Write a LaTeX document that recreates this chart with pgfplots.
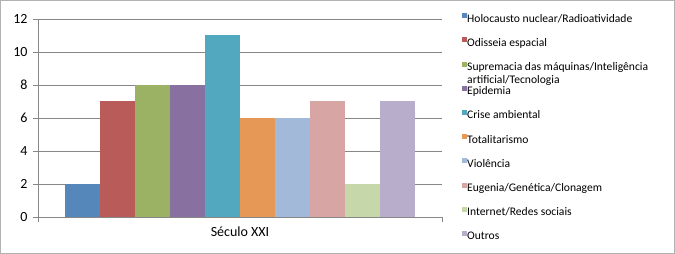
\documentclass[border=0pt]{standalone}
\usepackage{fontspec}
\setmainfont{Carlito}
\usepackage{pgfplots}
\pgfplotsset{compat=1.18}
\definecolor{c1}{HTML}{5587BA}
\definecolor{c2}{HTML}{B95C59}
\definecolor{c3}{HTML}{9BB265}
\definecolor{c4}{HTML}{8870A0}
\definecolor{c5}{HTML}{52A8BE}
\definecolor{c6}{HTML}{E69856}
\definecolor{c7}{HTML}{A3B9D9}
\definecolor{c8}{HTML}{D8A5A5}
\definecolor{c9}{HTML}{C6D7A9}
\definecolor{c10}{HTML}{B8ADCB}
\definecolor{axgray}{HTML}{878787}
\begin{document}
\begin{tikzpicture}
\path[use as bounding box] (0,0) rectangle (675pt,254pt);
\draw[color=black!30, line width=1pt] (0.5pt,0.5pt) rectangle (674.5pt,253.5pt);
\begin{axis}[
  at={(38pt,37pt)}, anchor=south west,
  scale only axis, width=404pt, height=198pt,
  ybar=0pt, bar width=35pt,
  xmin=-0.5, xmax=0.5, ymin=0, ymax=12,
  ytick={0,2,...,12},
  xtick={-0.5,0.5}, xticklabels={},
  extra x ticks={0}, extra x tick labels={Século XXI},
  extra x tick style={major tick length=0pt, grid=none, xticklabel style={yshift=-6pt}},
  axis x line*=bottom, axis y line*=left,
  axis line style={draw=axgray},
  tick style={draw=axgray, line width=0.6pt},
  tick align=outside, major tick length=5pt,
  ymajorgrids, grid style={draw=axgray, line width=0.6pt},
  /pgf/number format/assume math mode=true,
  tick label style={font=\fontsize{14}{16}\selectfont, text=black},
  yticklabel style={xshift=-2pt},
  legend cell align=left,
  legend style={draw=none, fill=none, at={(424pt,204pt)}, anchor=north west,
    font=\fontsize{11.6}{13}\selectfont, row sep=12.75pt, inner sep=0pt,
    nodes={inner sep=0pt, text height=8pt, text depth=2.5pt},
    /tikz/every even column/.append style={column sep=4pt}},
  legend image code/.code={\fill[#1, draw=none] (0pt,1.2pt) rectangle (5pt,6.2pt);},
  every axis plot/.append style={draw=none},
]
\addplot[fill=c1] coordinates {(0,2)};
\addplot[fill=c2] coordinates {(0,7)};
\addplot[fill=c3] coordinates {(0,8)};
\addplot[fill=c4] coordinates {(0,8)};
\addplot[fill=c5] coordinates {(0,11)};
\addplot[fill=c6] coordinates {(0,6)};
\addplot[fill=c7] coordinates {(0,6)};
\addplot[fill=c8] coordinates {(0,7)};
\addplot[fill=c9] coordinates {(0,2)};
\addplot[fill=c10] coordinates {(0,7)};
\legend{Holocausto nuclear/Radioatividade, Odisseia espacial,
  {\vtop{\baselineskip=13pt\hbox{Supremacia das máquinas/Inteligência}\hbox{artificial/Tecnologia}}},
  Epidemia, Crise ambiental, Totalitarismo, Violência,
  Eugenia/Genética/Clonagem, Internet/Redes sociais, Outros}
\end{axis}
\end{tikzpicture}
\end{document}
